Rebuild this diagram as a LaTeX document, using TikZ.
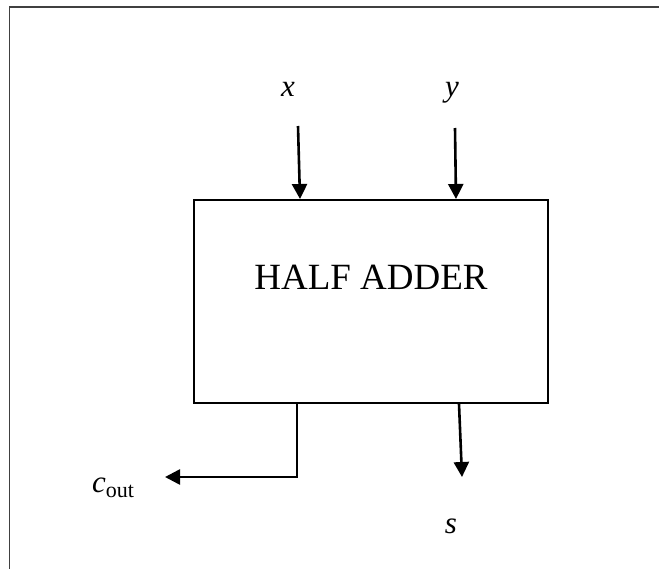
\documentclass[tikz,border=0pt]{standalone}
\usepackage{fontspec}
\setmainfont{Liberation Serif}
\usetikzlibrary{arrows.meta,calc}
\begin{document}
\begin{tikzpicture}[x=1pt,y=-1pt,
  frame/.style={draw=black!75,line width=1.5pt},
  blockbox/.style={draw,line width=2pt,minimum width=354pt,minimum height=203pt,inner sep=0pt},
  wire/.style={line width=2.6pt,-{Triangle[length=15pt,width=15pt]}},
  varlbl/.style={anchor=base,inner sep=0pt,font=\fontsize{31}{36}\selectfont\itshape},
  titlelbl/.style={anchor=base,inner sep=0pt,font=\fontsize{37}{44}\selectfont}]
\useasboundingbox (0,0) rectangle (659,568);
% outer frame (top and left edges visible)
\coordinate (ftr) at (662,7);
\coordinate (ftl) at (9.5,7);
\coordinate (fbl) at (9.5,571);
\draw[frame] (ftr) -- (ftl) -- (fbl);
% block
\node[blockbox] (ha) at (371,301.5) {};
\node[titlelbl] (hatxt) at (371,289) {HALF ADDER};
% inputs
\node[varlbl] (xl) at (288,96) {x};
\node[varlbl] (yl) at (452,96) {y};
\coordinate (xs) at (298,126);
\coordinate (ys) at (455,128);
\draw[wire] (xs) -- ($(ha.north west)+(107,0)$);
\draw[wire] (ys) -- ($(ha.north west)+(263,0)$);
% outputs
\coordinate (cs) at ($(ha.south west)+(104,0)$);
\coordinate (ce) at (165,477);
\draw[wire] (cs) |- (ce);
\coordinate (ss) at ($(ha.south west)+(266,0)$);
\coordinate (se) at (462,477);
\draw[wire] (ss) -- (se);
\node[anchor=base west,inner sep=0pt] (cl) at (92,492) {\fontsize{31}{36}\selectfont\itshape c\raisebox{-5pt}{\fontsize{22}{26}\selectfont\upshape out}};
\node[varlbl] (sl) at (451,533) {s};
\end{tikzpicture}
\end{document}
